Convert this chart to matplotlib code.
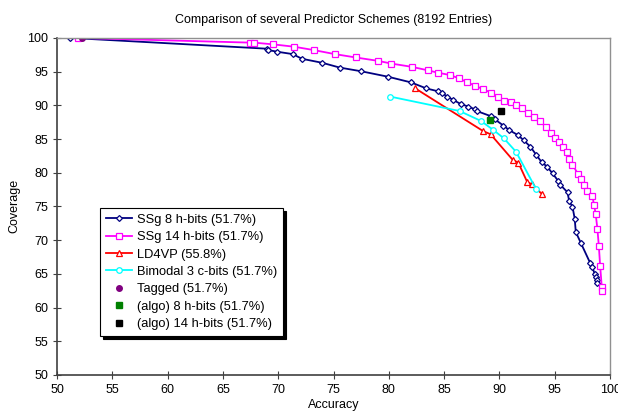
from matplotlib import pyplot as plt
import numpy as np

plt.rcParams['font.family'] = ['Liberation Sans', 'DejaVu Sans']

# SSg 8 h-bits
ssg8_x = [51.2, 68.95, 69.1, 69.9, 71.3, 72.15, 74.0, 75.55, 77.5, 79.9, 82.0, 83.4, 84.4, 84.8, 85.3,
          85.8, 86.5, 87.2, 87.8, 87.95, 89.2, 89.6, 90.35, 90.9, 91.65, 92.2, 92.8, 93.3, 93.8, 94.3,
          94.8, 95.3, 95.5, 96.15, 96.3, 96.6, 96.8, 96.9, 97.35, 98.2, 98.4, 98.6, 98.7, 98.8, 98.85]
ssg8_y = [100, 98.4, 98.2, 97.95, 97.6, 96.9, 96.3, 95.6, 95.05, 94.25, 93.4, 92.5, 92.1, 91.8, 91.3,
          90.8, 90.2, 89.8, 89.4, 89.15, 88.4, 87.9, 87.0, 86.3, 85.6, 84.8, 83.85, 82.7, 81.6, 80.9,
          79.9, 78.8, 78.2, 77.1, 75.8, 74.95, 73.2, 71.2, 69.6, 66.6, 66.0, 65.0, 64.5, 64.1, 63.6]

# SSg 14 h-bits
ssg14_x = [51.9, 67.45, 67.8, 69.5, 71.4, 73.2, 75.1, 77.0, 79.0, 80.2, 82.1, 83.5, 84.4, 85.5, 86.35,
           87.1, 87.8, 88.5, 89.2, 89.9, 90.4, 91.0, 91.5, 92.0, 92.6, 93.1, 93.7, 94.2, 94.7, 95.0,
           95.4, 95.7, 96.1, 96.3, 96.6, 97.1, 97.4, 97.65, 97.9, 98.4, 98.55, 98.7, 98.85, 98.98, 99.1,
           99.25, 99.3]
ssg14_y = [100, 99.3, 99.3, 99.05, 98.7, 98.2, 97.6, 97.1, 96.6, 96.2, 95.7, 95.2, 94.85, 94.5, 94.0,
           93.4, 92.9, 92.4, 91.9, 91.3, 90.7, 90.5, 90.0, 89.6, 88.9, 88.2, 87.6, 86.8, 85.9, 85.2,
           84.6, 83.85, 83.1, 82.0, 81.2, 79.8, 79.0, 78.2, 77.3, 76.5, 75.2, 73.85, 71.7, 69.2, 66.2,
           63.0, 62.4]

# LD4VP
ld4vp_x = [82.4, 88.5, 89.2, 91.2, 91.7, 92.5, 92.9, 93.8]
ld4vp_y = [92.5, 86.2, 85.7, 81.9, 81.5, 78.65, 78.3, 76.9]

# Bimodal 3 c-bits
bimodal_x = [80.1, 86.4, 88.3, 89.4, 90.4, 91.5, 93.3]
bimodal_y = [91.3, 89.15, 87.7, 86.4, 85.1, 83.1, 77.6]

# single points
tagged = (52.3, 100)
algo8 = (89.15, 87.8)
algo14 = (90.15, 89.15)

########################################################################################################################
fig = plt.figure(figsize=(6.18, 4.12), dpi=100)
ax = fig.add_axes([0.0922, 0.090, 0.895, 0.818])

ax.plot(ssg8_x, ssg8_y, color='#000080', lw=1.3, marker='D', ms=3.0, mfc='white', mec='#000080', mew=0.9,
        label='SSg 8 h-bits (51.7%)')
ax.plot(ssg14_x, ssg14_y, color='#FF00FF', lw=1.3, marker='s', ms=5, mfc='white', mec='#FF00FF', mew=0.9,
        label='SSg 14 h-bits (51.7%)')
ax.plot(ld4vp_x, ld4vp_y, color='#FF0000', lw=1.3, marker='^', ms=5, mfc='white', mec='#FF0000', mew=0.9,
        label='LD4VP (55.8%)')
ax.plot(bimodal_x, bimodal_y, color='#00FFFF', lw=1.3, marker='o', ms=4, mfc='white', mec='#00FFFF', mew=0.9,
        label='Bimodal 3 c-bits (51.7%)')
ax.plot([tagged[0]], [tagged[1]], ls='none', marker='o', ms=4, color='#800080', label='Tagged (51.7%)')
ax.plot([algo8[0]], [algo8[1]], ls='none', marker='s', ms=5, color='#008000', label='(algo) 8 h-bits (51.7%)')
ax.plot([algo14[0]], [algo14[1]], ls='none', marker='s', ms=5, color='black', label='(algo) 14 h-bits (51.7%)')

ax.set_xlim(50, 100)
ax.set_ylim(50, 100)
ax.set_xticks(np.arange(50, 101, 5))
ax.set_yticks(np.arange(50, 101, 5))
ax.tick_params(direction='inout', length=6, width=0.8, labelsize=9, color='#404040')
for side in ['left', 'bottom']:
    ax.spines[side].set_color('#404040')
    ax.spines[side].set_linewidth(1.2)
for side in ['top', 'right']:
    ax.spines[side].set_color('#909090')
    ax.spines[side].set_linewidth(1.0)

ax.set_xlabel("Accuracy", fontsize=9, labelpad=2)
ax.set_ylabel("Coverage", fontsize=9, labelpad=5)
ax.set_title("Comparison of several Predictor Schemes (8192 Entries)", fontsize=9, pad=11)

leg = ax.legend(loc='upper left', bbox_to_anchor=(0.078, 0.496), fontsize=9.3, fancybox=False,
                edgecolor='black', framealpha=1, shadow={'color': 'black', 'alpha': 1},
                handlelength=2.0, handletextpad=0.4, labelspacing=0.42, borderpad=0.45,
                borderaxespad=0)
leg.get_frame().set_linewidth(0.8)

plt.savefig('out.png', dpi=100)
plt.close()
